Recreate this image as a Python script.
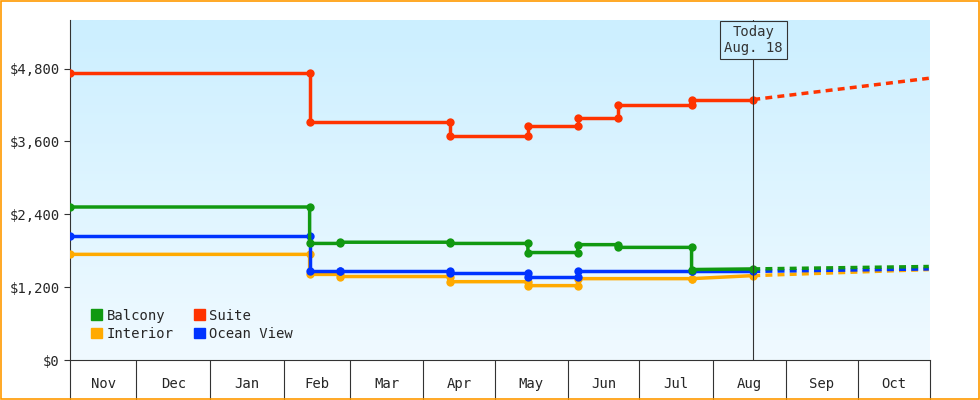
import numpy as np, pandas as pd, matplotlib
matplotlib.use("Agg")
import matplotlib.pyplot as plt, seaborn as sns

sns.set_style("white")
plt.rcParams['font.family'] = ['DejaVu Sans Mono']

months = ["Nov","Dec","Jan","Feb","Mar","Apr","May","Jun","Jul","Aug","Sep","Oct"]
month_start = [0,30,61,92,120,151,181,212,242,273,304,334,365]  # days since Nov 1
today = 290
end_day = 364

# (day, value) observed points; duplicate day = price change
suite_days   = [2,103,103,162,162,195,195,216,216,233,233,264,264,290]
suite_vals   = [4720,4720,3920,3920,3690,3690,3860,3860,3990,3990,4200,4200,4290,4290]
balcony_days = [2,103,103,116,116,162,162,195,195,216,216,233,233,264,264,290]
balcony_vals = [2520,2520,1920,1920,1940,1940,1920,1920,1770,1770,1900,1900,1855,1855,1490,1500]
ocean_days   = [2,103,103,116,116,162,162,195,195,216,216,264,264,290]
ocean_vals   = [2050,2050,1470,1470,1470,1470,1440,1440,1360,1360,1470,1470,1460,1460]
interior_days= [2,103,103,116,116,162,162,195,195,216,216,264,264,290]
interior_vals= [1740,1740,1410,1410,1375,1375,1290,1290,1225,1225,1340,1340,1340,1390]
forecast_end = {"Suite":4640,"Balcony":1540,"Ocean View":1500,"Interior":1490}
last = {"Suite":4290,"Balcony":1500,"Ocean View":1460,"Interior":1390}

colors = {"Balcony":"#119911","Suite":"#ff3300","Interior":"#ffaa00","Ocean View":"#0033ff"}
series = {"Suite":(suite_days,suite_vals),"Balcony":(balcony_days,balcony_vals),
          "Interior":(interior_days,interior_vals),"Ocean View":(ocean_days,ocean_vals)}

fig = plt.figure(figsize=(9.8,4), dpi=100)
fig.patch.set_facecolor("white")
fig.patches.append(plt.Rectangle((0.001,0.002),0.998,0.996,transform=fig.transFigure,fill=False,ec="#ff9900",lw=1.2))
ax = fig.add_axes([70/980, 40/400, 860/980, 340/400])
ax.set_xlim(2, end_day+0.5); ax.set_ylim(0, 5600)
grad = np.linspace(0,1,256).reshape(-1,1)
cmap = matplotlib.colors.LinearSegmentedColormap.from_list("g",["#f0faff","#ccefff"])
ax.imshow(grad, aspect="auto", cmap=cmap, origin="lower", extent=[2,end_day+0.5,0,5600], zorder=0)

for name in ["Interior","Ocean View","Balcony","Suite"]:
    d, v = series[name]
    df = pd.DataFrame({"day":d,"val":v})
    sns.lineplot(data=df, x="day", y="val", sort=False, estimator=None, color=colors[name],
                 lw=2.5, marker="o", markersize=6, markeredgewidth=0, ax=ax, zorder=3)
    fd = pd.DataFrame({"day":[today,end_day],"val":[last[name],forecast_end[name]]})
    sns.lineplot(data=fd, x="day", y="val", color=colors[name], lw=2.5, ls=(0,(2,1.5)), ax=ax, zorder=2)

ax.axvline(today, color="#333333", lw=0.8, zorder=4)
ax.text(today, 5270, "Today\nAug. 18", ha="center", va="center", fontsize=10, color="#333",
        bbox=dict(boxstyle="square,pad=0.3", fc="#ccefff", ec="#333", lw=0.8), zorder=5)

ax.set_yticks([0,1200,2400,3600,4800])
ax.set_yticklabels(["$0","$1,200","$2,400","$3,600","$4,800"], fontsize=10)
ax.tick_params(axis="y", length=4, color="#333", left=True)
ax.set_xticks([]); ax.set_xlabel(""); ax.set_ylabel("")
for s in ["top","right"]: ax.spines[s].set_visible(False)
ax.spines["left"].set_color("#333"); ax.spines["bottom"].set_color("#333")

# month boxes
for i, m in enumerate(months):
    a, b = max(month_start[i],2), min(month_start[i+1], end_day+0.5)
    ax.text((a+b)/2, -0.07, m, transform=ax.get_xaxis_transform(), ha="center", va="center", fontsize=10)
    ax.plot([b,b],[0,-0.14], transform=ax.get_xaxis_transform(), color="#333", lw=0.8, clip_on=False)
ax.plot([2,2],[0,-0.14], transform=ax.get_xaxis_transform(), color="#333", lw=0.8, clip_on=False)
ax.plot([2,end_day+0.5],[-0.14,-0.14], transform=ax.get_xaxis_transform(), color="#333", lw=0.8, clip_on=False)

from matplotlib.patches import Patch
handles = [Patch(color=colors[n], label=n) for n in ["Balcony","Interior","Suite","Ocean View"]]
ax.legend(handles=handles, ncol=2, loc="lower left", bbox_to_anchor=(0.01,0.02), frameon=False,
          fontsize=10, handlelength=0.8, handleheight=0.8, handletextpad=0.3, columnspacing=1.5, labelspacing=0.3)
fig.savefig("out.png", dpi=100)
